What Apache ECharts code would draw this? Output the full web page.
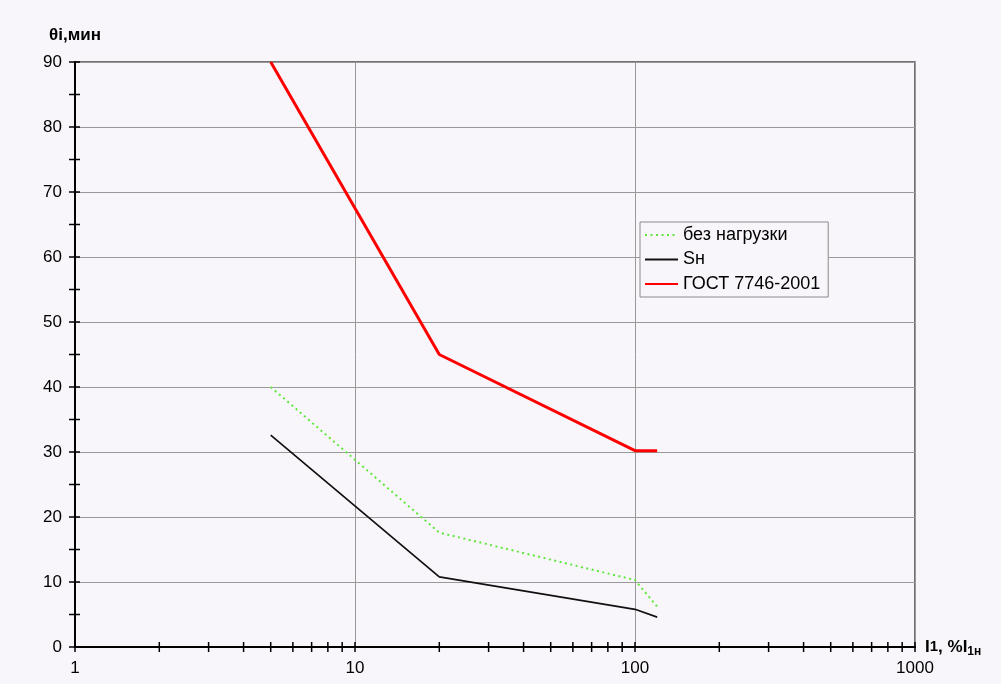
<!DOCTYPE html>
<html>
<head>
<meta charset="utf-8">
<script src="https://cdn.jsdelivr.net/npm/echarts@6/dist/echarts.min.js"></script>
<style>
  html, body { margin: 0; padding: 0; background: #f8f6fa; }
  #chart { width: 1001px; height: 684px; }
</style>
</head>
<body>
<div id="chart"></div>
<script>
// Current in % of rated current (log scale)
const currents = [5, 20, 100, 120];
// Angular error, minutes
const noLoad = [40, 17.6, 10.3, 6.2];
const ratedLoad = [32.6, 10.8, 5.8, 4.6];
const gostLimit = [90, 45, 30.2, 30.2];

const seriesNames = ['без нагрузки', 'Sн', 'ГОСТ 7746-2001'];

const xMajorTicks = [1, 10, 100, 1000];
const xMinorTicks = [2, 3, 4, 5, 6, 7, 8, 9, 20, 30, 40, 50, 60, 70, 80, 90, 200, 300, 400, 500, 600, 700, 800, 900];
const yTicks = [0, 5, 10, 15, 20, 25, 30, 35, 40, 45, 50, 55, 60, 65, 70, 75, 80, 85, 90];

const pairs = (xs, ys) => xs.map((x, i) => [x, ys[i]]);

// tick marks crossing the axis lines
const tickData = []
  .concat(xMajorTicks.concat(xMinorTicks).map(v => [v, 0, 0]))
  .concat(yTicks.map(v => [1, v, 1]));

const font = 'Liberation Sans, Arial, sans-serif';

const chart = echarts.init(document.getElementById('chart'), null, { renderer: 'canvas' });
chart.setOption({
  backgroundColor: '#f8f6fa',
  animation: false,
  textStyle: { fontFamily: font },
  grid: {
    left: 75, top: 62, width: 840, height: 585,
    show: true, borderColor: '#444', borderWidth: 1.5, backgroundColor: 'transparent'
  },
  legend: {
    data: seriesNames,
    orient: 'vertical',
    left: 640, top: 222,
    padding: [4, 8, 4, 4],
    itemWidth: 33, itemHeight: 14, itemGap: 6.5,
    borderColor: '#8a8a8a', borderWidth: 1,
    backgroundColor: '#f8f6fa',
    itemStyle: { opacity: 0 },
    textStyle: { fontSize: 18, color: '#000', fontFamily: font, padding: [0, 0, 0, 0] }
  },
  xAxis: {
    type: 'log', logBase: 10, min: 1, max: 1000,
    name: '{b|I}{m|1}{b|, %I}{s|1н}',
    nameLocation: 'end', nameGap: 10,
    nameTextStyle: {
      rich: {
        b: { fontSize: 17, fontWeight: 'bold', color: '#000', fontFamily: font },
        m: { fontSize: 15, fontWeight: 'bold', color: '#000', fontFamily: font },
        s: { fontSize: 12, fontWeight: 'bold', color: '#000', fontFamily: font, padding: [9, 0, 0, 0] }
      }
    },
    axisLine: { lineStyle: { color: '#000', width: 2 } },
    axisTick: { show: false },
    minorTick: { show: false },
    axisLabel: {
      fontSize: 17, color: '#000', margin: 13, fontFamily: font,
      formatter: v => String(v)
    },
    splitLine: { show: true, lineStyle: { color: '#999', width: 1 } }
  },
  yAxis: {
    type: 'value', min: 0, max: 90, interval: 10,
    name: 'θi,мин', nameLocation: 'end', nameGap: 18,
    nameTextStyle: { fontSize: 17, fontWeight: 'bold', color: '#000', fontFamily: font },
    axisLine: { show: true, lineStyle: { color: '#000', width: 2 } },
    axisTick: { show: false },
    axisLabel: { fontSize: 17, color: '#000', margin: 13, fontFamily: font },
    splitLine: { show: true, lineStyle: { color: '#999', width: 1 } }
  },
  series: [
    {
      name: seriesNames[0], type: 'line', data: pairs(currents, noLoad),
      symbol: 'none', z: 3,
      lineStyle: { color: '#5ee83c', width: 2, type: [2, 3.5] },
      itemStyle: { color: '#5ee83c' }
    },
    {
      name: seriesNames[1], type: 'line', data: pairs(currents, ratedLoad),
      symbol: 'none', z: 3,
      lineStyle: { color: '#111', width: 1.7 },
      itemStyle: { color: '#111' }
    },
    {
      name: seriesNames[2], type: 'line', data: pairs(currents, gostLimit),
      symbol: 'none', z: 4,
      lineStyle: { color: '#ff0000', width: 3 },
      itemStyle: { color: '#ff0000' }
    },
    {
      type: 'custom', silent: true, z: 10, clip: false,
      data: tickData,
      renderItem: function (params, api) {
        const p = api.coord([api.value(0), api.value(1)]);
        const vertical = api.value(2) === 0;
        const shape = vertical
          ? { x1: p[0], y1: p[1] - 5, x2: p[0], y2: p[1] + 5 }
          : { x1: p[0] - 6, y1: p[1], x2: p[0] + 5, y2: p[1] };
        return { type: 'line', shape: shape, style: { stroke: '#000', lineWidth: 1.5 } };
      }
    }
  ]
});
</script>
</body>
</html>
